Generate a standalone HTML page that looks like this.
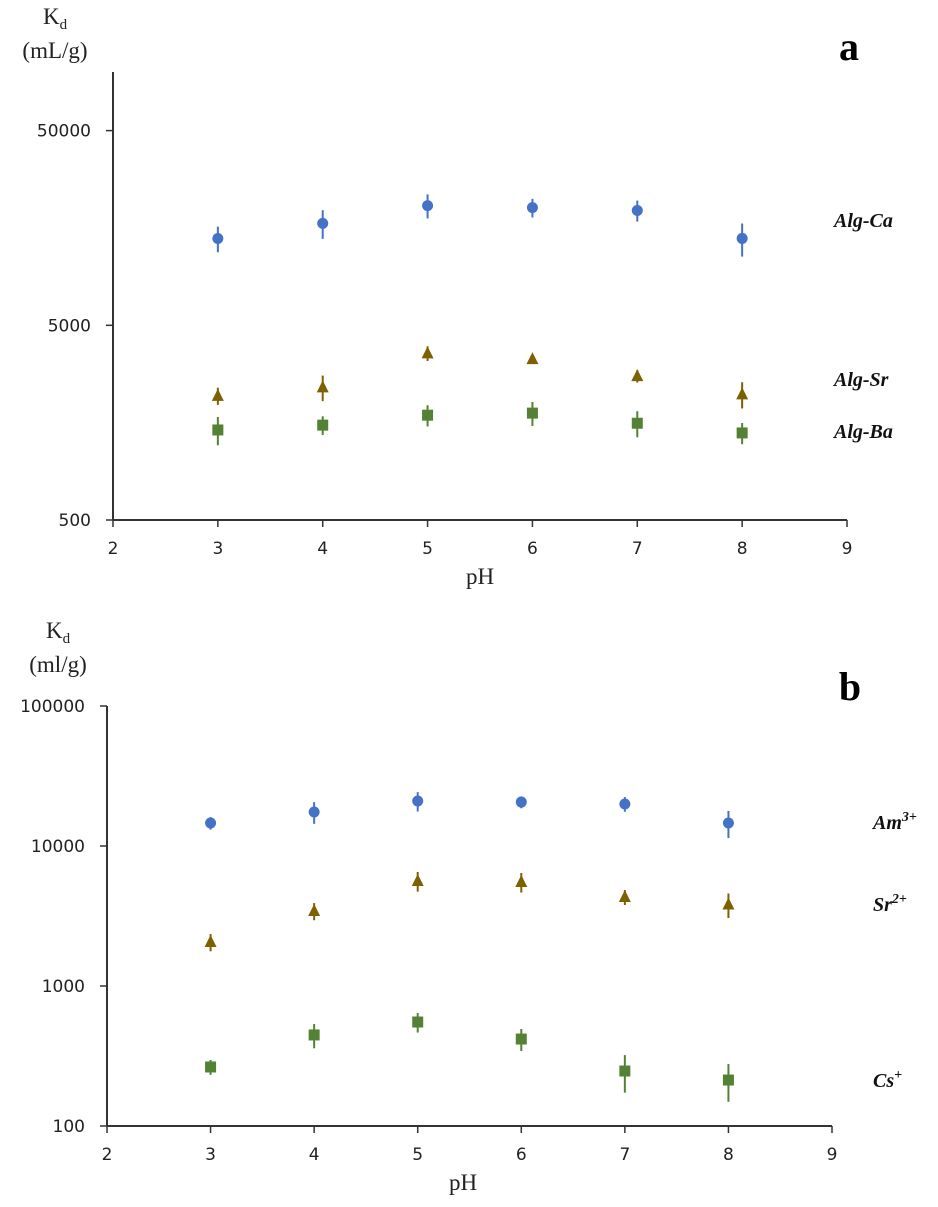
<!DOCTYPE html>
<html><head><meta charset="utf-8"><style>
html,body{margin:0;padding:0;background:#fff;}
svg{display:block;}
.tick{font-family:"DejaVu Sans",sans-serif;font-size:17px;fill:#222;}
.ser{font-family:"Liberation Serif",serif;fill:#222;}
.lab{font-family:"Liberation Serif",serif;font-weight:bold;font-style:italic;font-size:20px;fill:#111;}
</style></head><body>
<svg id="chart" width="938" height="1207" viewBox="0 0 938 1207" xmlns="http://www.w3.org/2000/svg"></svg>
<script>
// ---- data: panel a ----
const phA = [3,4,5,6,7,8];
const caA = [13960,16700,20600,20100,19450,13970];
const caErrA = [2100,2800,2900,2200,2400,2700];
const srA = [2170,2400,3590,3350,2740,2210];
const srErrA = [220,360,310,170,200,340];
const baA = [1450,1535,1727,1770,1570,1400];
const baErrA = [240,170,215,250,240,175];
const yTicksA = [500,5000,50000];
const xTicks = [2,3,4,5,6,7,8,9];
// ---- data: panel b ----
const phB = [3,4,5,6,7,8];
const amB = [14590,17500,20950,20600,19950,14590];
const amErrB = [1500,3100,3300,2000,2400,3200];
const srB = [2060,3430,5620,5530,4320,3820];
const srErrB = [290,480,900,880,530,760];
const csB = [264,447,553,418,247,213];
const csErrB = [32,88,88,75,74,64];
const yTicksB = [100,1000,10000,100000];

const NS="http://www.w3.org/2000/svg";
const svg=document.getElementById('chart');
function mk(tag,attrs,parent){const e=document.createElementNS(NS,tag);for(const k in attrs)e.setAttribute(k,attrs[k]);(parent||svg).appendChild(e);return e;}

function panel(cfg){
  const g=mk('g',{});
  
  
  const xs=v=>cfg.x0+(v-2)/7*(cfg.x1-cfg.x0);
  const ys=v=>cfg.yb-(Math.log10(v)-Math.log10(cfg.ymin))/(Math.log10(cfg.ymax)-Math.log10(cfg.ymin))*(cfg.yb-cfg.yt);
  const ya=mk('line',{x1:cfg.x0,y1:cfg.yt,x2:cfg.x0,y2:cfg.yb,stroke:'#333','stroke-width':2},g);
  
  
  const xa=mk('line',{x1:cfg.x0,y1:cfg.yb,x2:cfg.x1,y2:cfg.yb,stroke:'#333','stroke-width':2},g);
  
  
  cfg.yTicks.forEach(t=>{
    const y=ys(t);
    mk('line',{x1:cfg.x0-7,y1:y,x2:cfg.x0,y2:y,stroke:'#333','stroke-width':1.5},g);
    const tx=mk('text',{x:cfg.x0-22,y:y+6,'text-anchor':'end',class:'tick'},g);
    tx.textContent=t;
    
    
  });
  xTicks.forEach(t=>{
    const x=xs(t);
    mk('line',{x1:x,y1:cfg.yb,x2:x,y2:cfg.yb+7,stroke:'#333','stroke-width':1.5},g);
    const tx=mk('text',{x:x,y:cfg.yb+34,'text-anchor':'middle',class:'tick'},g);
    tx.textContent=t;
    
    
  });
  const xt=mk('text',{x:cfg.pHx,y:cfg.yb+64,'text-anchor':'middle',class:'ser',style:'font-size:23px'},g);
  xt.textContent='pH';
  
  
  const yt=mk('text',{x:cfg.kx,y:cfg.ky,'text-anchor':'middle',class:'ser',style:'font-size:23px'},g);
  yt.innerHTML='K<tspan font-size="15" dy="5">d</tspan>';
  
  
  const yu=mk('text',{x:cfg.kx,y:cfg.ky+34,'text-anchor':'middle',class:'ser',style:'font-size:23px'},g);
  yu.textContent=cfg.unit;
  
  
  const pl=mk('text',{x:cfg.letX,y:cfg.letY,'text-anchor':'middle',style:'font-family:"Liberation Serif",serif;font-weight:bold;font-size:40px;fill:#000'},g);
  pl.textContent=cfg.letter;
  
  
  cfg.series.forEach(s=>{
    const sg=mk('g',{},g);
    
    
    s.vals.forEach((v,i)=>{
      const x=xs(cfg.ph[i]), y=ys(v);
      const e=mk('line',{x1:x,y1:ys(v+s.err[i]),x2:x,y2:ys(Math.max(v-s.err[i],1)),stroke:s.color,'stroke-width':2},sg);
      
      
      let m;
      if(s.shape==='circle') m=mk('circle',{cx:x,cy:y,r:5.5,fill:s.color},sg);
      else if(s.shape==='tri') m=mk('polygon',{points:`${x},${y-7} ${x-6},${y+5} ${x+6},${y+5}`,fill:s.color},sg);
      else m=mk('rect',{x:x-5.5,y:y-5.5,width:11,height:11,fill:s.color},sg);
      
      
    });
    const lt=mk('text',{x:cfg.labX,y:s.labY,class:'lab'},sg);
    lt.innerHTML=s.label;
    
    
  });
}

panel({name:'panel-a',x0:113,x1:847,yt:72,yb:520,ymin:500,ymax:100000,yTicks:yTicksA,ph:phA,
  pHx:480,kx:55,ky:24,unit:'(mL/g)',letter:'a',letX:849,letY:60,labX:834,
  series:[
    {name:'series-alg-ca',vals:caA,err:caErrA,color:'#4472C4',shape:'circle',label:'Alg-Ca',labY:227},
    {name:'series-alg-sr',vals:srA,err:srErrA,color:'#7F6000',shape:'tri',label:'Alg-Sr',labY:386},
    {name:'series-alg-ba',vals:baA,err:baErrA,color:'#548235',shape:'rect',label:'Alg-Ba',labY:438}
  ]});
panel({name:'panel-b',x0:107,x1:832,yt:706,yb:1126,ymin:100,ymax:100000,yTicks:yTicksB,ph:phB,
  pHx:463,kx:58,ky:638,unit:'(ml/g)',letter:'b',letX:850,letY:700,labX:873,
  series:[
    {name:'series-am',vals:amB,err:amErrB,color:'#4472C4',shape:'circle',label:'Am<tspan font-size="14" dy="-8">3+</tspan>',labY:829},
    {name:'series-sr',vals:srB,err:srErrB,color:'#7F6000',shape:'tri',label:'Sr<tspan font-size="14" dy="-8">2+</tspan>',labY:911},
    {name:'series-cs',vals:csB,err:csErrB,color:'#548235',shape:'rect',label:'Cs<tspan font-size="14" dy="-8">+</tspan>',labY:1087}
  ]});
</script>
</body></html>
